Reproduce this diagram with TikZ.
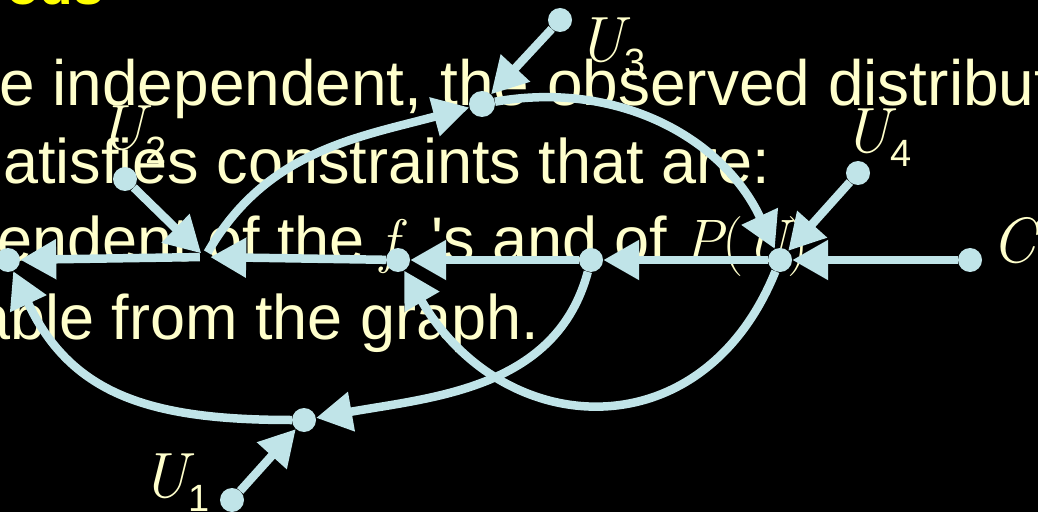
\documentclass[tikz,border=0pt]{standalone}
\usepackage{fontspec}
\setmainfont{Liberation Sans}
\newfontfamily\lmr{Latin Modern Roman}
\usetikzlibrary{arrows.meta}
\definecolor{gb}{RGB}{192,228,232}
\definecolor{ty}{RGB}{255,255,204}
\definecolor{tt}{RGB}{255,255,0}
\newcommand\mi[1]{{\lmr\itshape #1}}
\newcommand\ulab[1]{\mi{U}\kern1pt\raisebox{-14pt}{\fontsize{38}{38}\selectfont #1}}
\begin{document}
\begin{tikzpicture}[x=1pt,y=1pt,
  dot/.style={circle,fill=gb,minimum size=24pt,inner sep=0pt},
  conn/.style={draw=gb,line width=8.5pt,-{Triangle[length=36pt,width=38pt]}},
  txt/.style={text=ty,anchor=base west,inner sep=0pt,font=\fontsize{63}{63}\selectfont},
  lab/.style={text=ty,anchor=base west,inner sep=0pt,font=\fontsize{64}{64}\selectfont}]
\useasboundingbox (0,0) rectangle (1038,512);
\fill[black] (0,0) rectangle (1038,512);
% slide text
\node[txt,text=tt,font=\fontsize{55}{55}\selectfont\bfseries] (title) at (6,507) {ods};
\node[txt,font=\fontsize{64}{64}\selectfont] (l1) at (-1,406) {e independent, the observed distribut};
\node[txt] (l2) at (3,328) {atisfies constraints that are:};
\node[txt] (l3a) at (-3,251) {endent of the};
\node[txt,font=\fontsize{60}{60}\selectfont] (l3f) at (380,251) {\mi{f}};
\node[txt] (l3b) at (431,251) {\textquotesingle s and of};
\node[txt,font=\fontsize{60}{60}\selectfont] (l3c) at (683,251) {\mi{P}{\lmr(}\mi{U}{\lmr)}};
\node[txt] (l4) at (-25,173) {able from the graph.};
% graph nodes
\node[dot] (A) at (8,252) {};
\node[circle,minimum size=10pt,inner sep=0pt] (B) at (205,255) {};
\node[dot] (F) at (398,252) {};
\node[dot] (D) at (591,252) {};
\node[dot] (E) at (780,252) {};
\node[dot] (C) at (970,252) {};
\node[dot,minimum size=26pt] (G) at (482,408) {};
\node[dot] (H) at (304,92) {};
\node[dot] (u2) at (125,333) {};
\node[dot] (u3) at (560,492) {};
\node[dot] (u4) at (858,339) {};
\node[dot] (u1) at (232,12) {};
% labels
\node[lab] (lu3) at (577,450) {\ulab{3}};
\node[lab] (lu4) at (843,359) {\ulab{4}};
\node[lab] (lu2) at (98,362) {\ulab{2}};
\node[lab] (lu1) at (141,15) {\ulab{1}};
\node[lab] (lc) at (991,250) {\mi{C}};
% connectors
\draw[conn] (C) -- (E);
\draw[conn] (E) -- (D);
\draw[conn] (D) -- (F);
\draw[conn] (F) -- (B);
\draw[conn] (B) -- (A);
\draw[conn] (u2) -- (B);
\draw[conn] (u4) -- (E);
\draw[conn] (u3) -- (G);
\draw[conn] (u1) -- (H);
\draw[conn] (B) to[out=60,in=195] (G);
\draw[conn] (G) to[out=10,in=115] (E);
\draw[conn] (E) to[out=-112,in=-60,looseness=1.35] (F);
\draw[conn] (D) to[out=-105,in=10] (H);
\draw[conn] (H) to[out=180,in=-65,looseness=1.12] (A);
\end{tikzpicture}
\end{document}
